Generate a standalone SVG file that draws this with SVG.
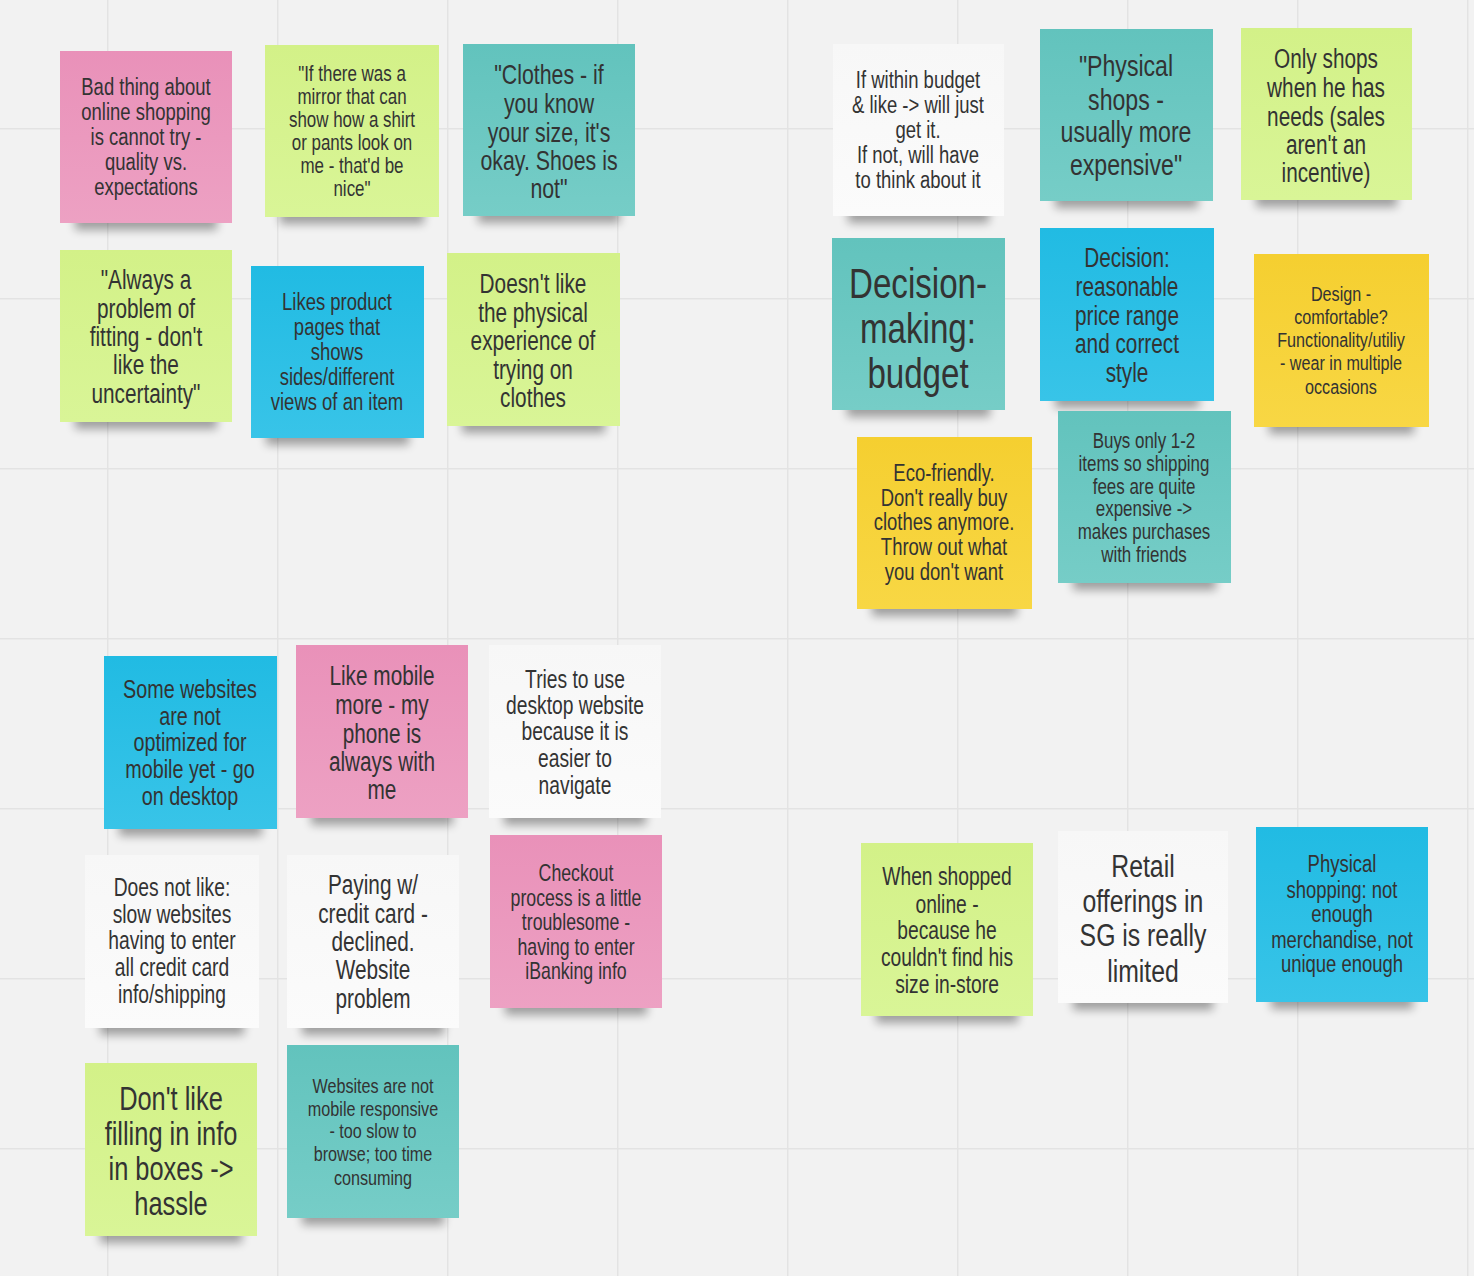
<svg xmlns="http://www.w3.org/2000/svg" width="1474" height="1276" viewBox="0 0 1474 1276">
<defs>
<pattern id="grid" patternUnits="userSpaceOnUse" x="107" y="128" width="170" height="170">
<path d="M0 0V170M0 0H170" stroke="#e3e3e3" stroke-width="3" fill="none"/>
</pattern>
<filter id="sh" x="-20%" y="-100%" width="140%" height="300%"><feGaussianBlur stdDeviation="5"/></filter>
<linearGradient id="pink" x1="0" y1="0" x2="0" y2="1"><stop offset="0" stop-color="#e991b9"/><stop offset="1" stop-color="#eda1c3"/></linearGradient>
<linearGradient id="lime" x1="0" y1="0" x2="0" y2="1"><stop offset="0" stop-color="#d3f188"/><stop offset="1" stop-color="#d9f597"/></linearGradient>
<linearGradient id="teal" x1="0" y1="0" x2="0" y2="1"><stop offset="0" stop-color="#62c3bd"/><stop offset="1" stop-color="#76cdc7"/></linearGradient>
<linearGradient id="blue" x1="0" y1="0" x2="0" y2="1"><stop offset="0" stop-color="#21bbe3"/><stop offset="1" stop-color="#38c4e8"/></linearGradient>
<linearGradient id="yellow" x1="0" y1="0" x2="0" y2="1"><stop offset="0" stop-color="#f5cf30"/><stop offset="1" stop-color="#f8d744"/></linearGradient>
<linearGradient id="white" x1="0" y1="0" x2="0" y2="1"><stop offset="0" stop-color="#f7f7f7"/><stop offset="1" stop-color="#fbfbfb"/></linearGradient>
</defs>
<style>
.s{fill:#000;opacity:0.34;filter:url(#sh)}
.t{font-family:"Liberation Sans",Arial,sans-serif;fill:#333;text-anchor:middle;dominant-baseline:central}
</style>
<rect width="1474" height="1276" fill="#f2f2f2"/>
<rect width="1474" height="1276" fill="url(#grid)"/>
<g id="connectors"/>

<g id="n1"><rect class="s" x="75" y="212" width="142" height="18"/><rect x="60" y="51" width="172" height="172" fill="url(#pink)"/>
<text class="t" font-size="24" transform="matrix(0.77 0 0 1 33.58 0)"><tspan x="146" y="87">Bad thing about</tspan><tspan x="146" y="112">online shopping</tspan><tspan x="146" y="137">is cannot try -</tspan><tspan x="146" y="162">quality vs.</tspan><tspan x="146" y="187">expectations</tspan></text></g>

<g id="n2"><rect class="s" x="280" y="206" width="144" height="18"/><rect x="265" y="45" width="174" height="172" fill="url(#lime)"/>
<text class="t" font-size="22" transform="matrix(0.77 0 0 1 80.96 0)"><tspan x="352" y="73">"If there was a</tspan><tspan x="352" y="96">mirror that can</tspan><tspan x="352" y="119">show how a shirt</tspan><tspan x="352" y="142">or pants look on</tspan><tspan x="352" y="165">me - that'd be</tspan><tspan x="352" y="188">nice"</tspan></text></g>

<g id="n3"><rect class="s" x="478" y="205" width="142" height="18"/><rect x="463" y="44" width="172" height="172" fill="url(#teal)"/>
<text class="t" font-size="27" transform="matrix(0.79 0 0 1 115.29 0)"><tspan x="549" y="74">"Clothes - if</tspan><tspan x="549" y="103">you know</tspan><tspan x="549" y="132">your size, it's</tspan><tspan x="549" y="160">okay. Shoes is</tspan><tspan x="549" y="188">not"</tspan></text></g>

<g id="n4"><rect class="s" x="75" y="411" width="142" height="18"/><rect x="60" y="250" width="172" height="172" fill="url(#lime)"/>
<text class="t" font-size="27" transform="matrix(0.77 0 0 1 33.58 0)"><tspan x="146" y="279">"Always a</tspan><tspan x="146" y="308">problem of</tspan><tspan x="146" y="336">fitting - don't</tspan><tspan x="146" y="364">like the</tspan><tspan x="146" y="393">uncertainty"</tspan></text></g>

<g id="n5"><rect class="s" x="266" y="427" width="143" height="18"/><rect x="251" y="266" width="173" height="172" fill="url(#blue)"/>
<text class="t" font-size="24" transform="matrix(0.77 0 0 1 77.51 0)"><tspan x="337" y="302">Likes product</tspan><tspan x="337" y="327">pages that</tspan><tspan x="337" y="352">shows</tspan><tspan x="337" y="377">sides/different</tspan><tspan x="337" y="402">views of an item</tspan></text></g>

<g id="n6"><rect class="s" x="462" y="415" width="143" height="18"/><rect x="447" y="253" width="173" height="173" fill="url(#lime)"/>
<text class="t" font-size="27" transform="matrix(0.77 0 0 1 122.59 0)"><tspan x="533" y="283">Doesn't like</tspan><tspan x="533" y="312">the physical</tspan><tspan x="533" y="340">experience of</tspan><tspan x="533" y="369">trying on</tspan><tspan x="533" y="397">clothes</tspan></text></g>

<g id="n7"><rect class="s" x="848" y="205" width="141" height="18"/><rect x="833" y="44" width="171" height="172" fill="url(#white)"/>
<text class="t" font-size="24" transform="matrix(0.77 0 0 1 211.14 0)"><tspan x="918" y="80">If within budget</tspan><tspan x="918" y="105">&amp; like -&gt; will just</tspan><tspan x="918" y="130">get it.</tspan><tspan x="918" y="155">If not, will have</tspan><tspan x="918" y="180">to think about it</tspan></text></g>

<g id="n8"><rect class="s" x="1055" y="190" width="143" height="18"/><rect x="1040" y="29" width="173" height="172" fill="url(#teal)"/>
<text class="t" font-size="30" transform="matrix(0.77 0 0 1 258.98 0)"><tspan x="1126" y="66">"Physical</tspan><tspan x="1126" y="100">shops -</tspan><tspan x="1126" y="132">usually more</tspan><tspan x="1126" y="165">expensive"</tspan></text></g>

<g id="n9"><rect class="s" x="1256" y="189" width="141" height="18"/><rect x="1241" y="28" width="171" height="172" fill="url(#lime)"/>
<text class="t" font-size="27" transform="matrix(0.77 0 0 1 304.98 0)"><tspan x="1326" y="58">Only shops</tspan><tspan x="1326" y="87">when he has</tspan><tspan x="1326" y="116">needs (sales</tspan><tspan x="1326" y="144">aren't an</tspan><tspan x="1326" y="172">incentive)</tspan></text></g>

<g id="n10"><rect class="s" x="847" y="399" width="143" height="18"/><rect x="832" y="238" width="173" height="172" fill="url(#teal)"/>
<text class="t" font-size="43" transform="matrix(0.77 0 0 1 211.14 0)"><tspan x="918" y="282">Decision-</tspan><tspan x="918" y="327">making:</tspan><tspan x="918" y="372">budget</tspan></text></g>

<g id="n11"><rect class="s" x="1055" y="390" width="144" height="18"/><rect x="1040" y="228" width="174" height="173" fill="url(#blue)"/>
<text class="t" font-size="27" transform="matrix(0.77 0 0 1 259.21 0)"><tspan x="1127" y="257">Decision:</tspan><tspan x="1127" y="286">reasonable</tspan><tspan x="1127" y="315">price range</tspan><tspan x="1127" y="343">and correct</tspan><tspan x="1127" y="372">style</tspan></text></g>

<g id="n12"><rect class="s" x="1269" y="416" width="145" height="18"/><rect x="1254" y="254" width="175" height="173" fill="url(#yellow)"/>
<text class="t" font-size="21" transform="matrix(0.77 0 0 1 308.43 0)"><tspan x="1341" y="293">Design -</tspan><tspan x="1341" y="316">comfortable?</tspan><tspan x="1341" y="339">Functionality/utiliy</tspan><tspan x="1341" y="362">- wear in multiple</tspan><tspan x="1341" y="386">occasions</tspan></text></g>

<g id="n13"><rect class="s" x="872" y="598" width="145" height="18"/><rect x="857" y="437" width="175" height="172" fill="url(#yellow)"/>
<text class="t" font-size="24" transform="matrix(0.77 0 0 1 217.12 0)"><tspan x="944" y="473">Eco-friendly.</tspan><tspan x="944" y="498">Don't really buy</tspan><tspan x="944" y="522">clothes anymore.</tspan><tspan x="944" y="547">Throw out what</tspan><tspan x="944" y="572">you don't want</tspan></text></g>

<g id="n14"><rect class="s" x="1073" y="572" width="143" height="18"/><rect x="1058" y="411" width="173" height="172" fill="url(#teal)"/>
<text class="t" font-size="22" transform="matrix(0.77 0 0 1 263.12 0)"><tspan x="1144" y="440">Buys only 1-2</tspan><tspan x="1144" y="463">items so shipping</tspan><tspan x="1144" y="486">fees are quite</tspan><tspan x="1144" y="508">expensive -&gt;</tspan><tspan x="1144" y="531">makes purchases</tspan><tspan x="1144" y="554">with friends</tspan></text></g>

<g id="n15"><rect class="s" x="119" y="818" width="143" height="18"/><rect x="104" y="656" width="173" height="173" fill="url(#blue)"/>
<text class="t" font-size="25" transform="matrix(0.79 0 0 1 39.9 0)"><tspan x="190" y="689">Some websites</tspan><tspan x="190" y="716">are not</tspan><tspan x="190" y="742">optimized for</tspan><tspan x="190" y="769">mobile yet - go</tspan><tspan x="190" y="796">on desktop</tspan></text></g>

<g id="n16"><rect class="s" x="311" y="807" width="142" height="18"/><rect x="296" y="645" width="172" height="173" fill="url(#pink)"/>
<text class="t" font-size="27" transform="matrix(0.77 0 0 1 87.86 0)"><tspan x="382" y="675">Like mobile</tspan><tspan x="382" y="704">more - my</tspan><tspan x="382" y="733">phone is</tspan><tspan x="382" y="761">always with</tspan><tspan x="382" y="789">me</tspan></text></g>

<g id="n17"><rect class="s" x="504" y="807" width="142" height="18"/><rect x="489" y="645" width="172" height="173" fill="url(#white)"/>
<text class="t" font-size="25" transform="matrix(0.77 0 0 1 132.25 0)"><tspan x="575" y="679">Tries to use</tspan><tspan x="575" y="705">desktop website</tspan><tspan x="575" y="731">because it is</tspan><tspan x="575" y="758">easier to</tspan><tspan x="575" y="785">navigate</tspan></text></g>

<g id="n18"><rect class="s" x="100" y="1017" width="144" height="18"/><rect x="85" y="855" width="174" height="173" fill="url(#white)"/>
<text class="t" font-size="25" transform="matrix(0.77 0 0 1 39.56 0)"><tspan x="172" y="887">Does not like:</tspan><tspan x="172" y="914">slow websites</tspan><tspan x="172" y="940">having to enter</tspan><tspan x="172" y="967">all credit card</tspan><tspan x="172" y="994">info/shipping</tspan></text></g>

<g id="n19"><rect class="s" x="302" y="1017" width="142" height="18"/><rect x="287" y="855" width="172" height="173" fill="url(#white)"/>
<text class="t" font-size="27" transform="matrix(0.77 0 0 1 85.79 0)"><tspan x="373" y="884">Paying w/</tspan><tspan x="373" y="913">credit card -</tspan><tspan x="373" y="941">declined.</tspan><tspan x="373" y="969">Website</tspan><tspan x="373" y="998">problem</tspan></text></g>

<g id="n20"><rect class="s" x="505" y="997" width="142" height="18"/><rect x="490" y="835" width="172" height="173" fill="url(#pink)"/>
<text class="t" font-size="23" transform="matrix(0.77 0 0 1 132.48 0)"><tspan x="576" y="872">Checkout</tspan><tspan x="576" y="897">process is a little</tspan><tspan x="576" y="921">troublesome -</tspan><tspan x="576" y="946">having to enter</tspan><tspan x="576" y="970">iBanking info</tspan></text></g>

<g id="n21"><rect class="s" x="100" y="1225" width="142" height="18"/><rect x="85" y="1063" width="172" height="173" fill="url(#lime)"/>
<text class="t" font-size="33" transform="matrix(0.77 0 0 1 39.33 0)"><tspan x="171" y="1098">Don't like</tspan><tspan x="171" y="1133">filling in info</tspan><tspan x="171" y="1168">in boxes -&gt;</tspan><tspan x="171" y="1203">hassle</tspan></text></g>

<g id="n22"><rect class="s" x="302" y="1207" width="142" height="18"/><rect x="287" y="1045" width="172" height="173" fill="url(#teal)"/>
<text class="t" font-size="21" transform="matrix(0.77 0 0 1 85.79 0)"><tspan x="373" y="1085">Websites are not</tspan><tspan x="373" y="1108">mobile responsive</tspan><tspan x="373" y="1130">- too slow to</tspan><tspan x="373" y="1153">browse; too time</tspan><tspan x="373" y="1177">consuming</tspan></text></g>

<g id="n23"><rect class="s" x="876" y="1005" width="142" height="18"/><rect x="861" y="843" width="172" height="173" fill="url(#lime)"/>
<text class="t" font-size="25" transform="matrix(0.77 0 0 1 217.81 0)"><tspan x="947" y="876">When shopped</tspan><tspan x="947" y="904">online -</tspan><tspan x="947" y="930">because he</tspan><tspan x="947" y="957">couldn't find his</tspan><tspan x="947" y="984">size in-store</tspan></text></g>

<g id="n24"><rect class="s" x="1073" y="992" width="140" height="18"/><rect x="1058" y="831" width="170" height="172" fill="url(#white)"/>
<text class="t" font-size="31" transform="matrix(0.8 0 0 1 228.6 0)"><tspan x="1143" y="866">Retail</tspan><tspan x="1143" y="901">offerings in</tspan><tspan x="1143" y="935">SG is really</tspan><tspan x="1143" y="971">limited</tspan></text></g>

<g id="n25"><rect class="s" x="1271" y="991" width="142" height="18"/><rect x="1256" y="827" width="172" height="175" fill="url(#blue)"/>
<text class="t" font-size="24" transform="matrix(0.77 0 0 1 308.66 0)"><tspan x="1342" y="864">Physical</tspan><tspan x="1342" y="890">shopping: not</tspan><tspan x="1342" y="914">enough</tspan><tspan x="1342" y="940">merchandise, not</tspan><tspan x="1342" y="964">unique enough</tspan></text></g>
</svg>
